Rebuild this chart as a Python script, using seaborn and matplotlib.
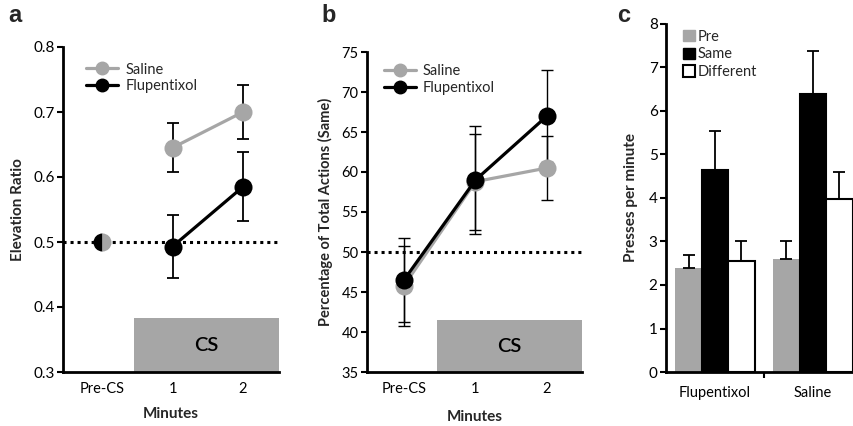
import matplotlib
matplotlib.use("Agg")
import matplotlib.pyplot as plt
import seaborn as sns
import numpy as np
import pandas as pd
from matplotlib.patches import Rectangle
from matplotlib.lines import Line2D
from matplotlib.patches import Patch

# ---------------- data ----------------
time_labels = ["Pre-CS", "1", "2"]

# panel a (elevation ratio), CS minutes only
a_saline = [0.645, 0.700]
a_saline_err = [0.038, 0.042]
a_flup = [0.493, 0.585]
a_flup_err = [0.048, 0.053]
a_pre = 0.5

# panel b (percentage of total actions, Same)
b_saline = [45.8, 58.8, 60.5]
b_saline_err = [5.0, 6.0, 4.0]
b_flup = [46.5, 59.0, 67.0]
b_flup_err = [5.3, 6.7, 5.8]

# panel c (presses per minute)
c_groups = ["Flupentixol", "Saline"]
c_conditions = ["Pre", "Same", "Different"]
c_values = {"Pre": [2.40, 2.60], "Same": [4.65, 6.38], "Different": [2.55, 3.97]}
c_errors = {"Pre": [0.30, 0.42], "Same": [0.90, 1.00], "Different": [0.45, 0.63]}

GRAY = "#a6a6a6"
sns.set_theme(style="white")
plt.rcParams["font.family"] = ["Lato", "DejaVu Sans"]

fig = plt.figure(figsize=(8.54, 4.26), dpi=100)
W, H = 854, 426
def box(l, r, t, b):
    return [l / W, 1 - b / H, (r - l) / W, (b - t) / H]

ax_a = fig.add_axes(box(63, 279, 47, 372))
ax_b = fig.add_axes(box(367, 582, 52, 372))
ax_c = fig.add_axes(box(666, 854, 24, 372))

def style_axis(ax, ysize=10.5):
    for s in ["top", "right"]:
        ax.spines[s].set_visible(False)
    for s in ["left", "bottom"]:
        ax.spines[s].set_color("black")
        ax.spines[s].set_linewidth(2.0)
    ax.tick_params(axis="y", which="both", direction="out", length=4, width=1.5,
                   colors="black", labelsize=ysize, left=True, pad=2)
    ax.tick_params(axis="x", length=0, labelsize=10.5, colors="black", pad=7)

ms = 13
lw = 2.3

# ---------------- panel a ----------------
ax = ax_a
xa = np.arange(len(time_labels))
ax.set_xlim(-0.553, 2.51)
ax.set_ylim(0.3, 0.8)
ax.add_patch(Rectangle((0.45, 0.3), 2.51 - 0.45, 0.383 - 0.3, color=GRAY, zorder=1, lw=0))
ax.text((0.45 + 2.51) / 2, 0.3415, "CS", ha="center", va="center", fontsize=14.5,
        fontweight="semibold", color="black", zorder=2)
ax.axhline(0.5, color="black", lw=2.2, ls=(0, (1, 1.3)), zorder=2)
df_a = pd.DataFrame({"x": list(xa[1:]) * 2, "y": a_saline + a_flup,
                     "g": ["Saline"] * 2 + ["Flupentixol"] * 2})
ax.errorbar(xa[1:], a_saline, yerr=a_saline_err, fmt="none", ecolor="black", elinewidth=1.3, capsize=4, capthick=1.3, zorder=3)
ax.errorbar(xa[1:], a_flup, yerr=a_flup_err, fmt="none", ecolor="black", elinewidth=1.3, capsize=4, capthick=1.3, zorder=3)
sns.lineplot(data=df_a, x="x", y="y", hue="g", palette={"Saline": GRAY, "Flupentixol": "black"},
             marker="o", markersize=ms, markeredgewidth=0, lw=lw, ax=ax, legend=False, zorder=4)
ax.plot([xa[0]], [a_pre], marker="o", markersize=ms, fillstyle="left", markerfacecolor="black",
        markerfacecoloralt=GRAY, markeredgewidth=0, ls="none", zorder=5)
ax.set_xticks(xa)
ax.set_xticklabels(time_labels)
ax.set_yticks(np.arange(0.3, 0.81, 0.1))
ax.set_yticklabels([f"{v:.1f}" for v in np.arange(0.3, 0.81, 0.1)])
ax.set_xlabel("Minutes", fontsize=11, fontweight="bold", labelpad=8)
ax.set_ylabel("Elevation Ratio", fontsize=11, fontweight="bold", labelpad=6)
style_axis(ax, ysize=11)
handles = [Line2D([], [], color=GRAY, marker="o", markersize=9, lw=lw, label="Saline"),
           Line2D([], [], color="black", marker="o", markersize=9, lw=lw, label="Flupentixol")]
ax.legend(handles=handles, loc="upper left", bbox_to_anchor=(0.08, 0.97), frameon=False,
          fontsize=10.5, handlelength=2.2, handletextpad=0.5, labelspacing=0.2, borderaxespad=0)

# ---------------- panel b ----------------
ax = ax_b
xb = np.arange(len(time_labels))
ax.set_xlim(-0.517, 2.49)
ax.set_ylim(35, 75)
ax.add_patch(Rectangle((0.46, 35), 2.49 - 0.46, 41.5 - 35, color=GRAY, zorder=1, lw=0))
ax.text((0.46 + 2.49) / 2, 38.2, "CS", ha="center", va="center", fontsize=14.5,
        fontweight="semibold", color="black", zorder=2)
ax.axhline(50, color="black", lw=2.2, ls=(0, (1, 1.3)), zorder=2)
ax.errorbar(xb, b_saline, yerr=b_saline_err, fmt="none", ecolor="black", elinewidth=1.0, capsize=4, capthick=1.0, zorder=3)
ax.errorbar(xb, b_flup, yerr=b_flup_err, fmt="none", ecolor="black", elinewidth=1.0, capsize=4, capthick=1.0, zorder=3)
df_b = pd.DataFrame({"x": list(xb) * 2, "y": b_saline + b_flup,
                     "g": ["Saline"] * 3 + ["Flupentixol"] * 3})
sns.lineplot(data=df_b, x="x", y="y", hue="g", palette={"Saline": GRAY, "Flupentixol": "black"},
             marker="o", markersize=ms, markeredgewidth=0, lw=lw, ax=ax, legend=False, zorder=4)
ax.set_xticks(xb)
ax.set_xticklabels(time_labels)
ax.set_yticks(np.arange(35, 76, 5))
ax.set_xlabel("Minutes", fontsize=11, fontweight="bold", labelpad=10)
ax.set_ylabel("Percentage of Total Actions (Same)", fontsize=10.5, fontweight="bold", labelpad=6)
style_axis(ax)
ax.legend(handles=handles, loc="upper left", bbox_to_anchor=(0.05, 0.98), frameon=False,
          fontsize=10.5, handlelength=2.2, handletextpad=0.5, labelspacing=0.2, borderaxespad=0)

# ---------------- panel c ----------------
ax = ax_c
rows = []
for cond in c_conditions:
    for i, g in enumerate(c_groups):
        rows.append({"group": g, "cond": cond, "val": c_values[cond][i]})
df_c = pd.DataFrame(rows)
sns.barplot(data=df_c, x="group", y="val", hue="cond", order=c_groups, hue_order=c_conditions,
            palette={"Pre": GRAY, "Same": "black", "Different": "white"}, width=0.81,
            errorbar=None, ax=ax, legend=False, saturation=1)
for cont, cond in zip(ax.containers, c_conditions):
    xs = []
    for p in cont:
        p.set_clip_on(False)
        if cond == "Pre":
            p.set_edgecolor(GRAY)
            p.set_linewidth(0)
        else:
            p.set_edgecolor("black")
            p.set_linewidth(1.5)
        xs.append(p.get_x() + p.get_width() / 2)
    ax.errorbar(xs, c_values[cond], yerr=[[0, 0], c_errors[cond]], fmt="none", ecolor="black",
                elinewidth=1.3, capsize=4, capthick=1.3, zorder=5)
ax.set_xlim(-0.50, 1.42)
ax.set_ylim(0, 8)
ax.set_yticks(range(0, 9))
ax.set_xlabel("")
ax.set_ylabel("Presses per minute", fontsize=11, fontweight="bold", labelpad=8)
style_axis(ax, ysize=11)
ax.set_xticks([0.505], minor=True)
ax.tick_params(axis="x", which="minor", direction="out", length=4, width=1.5, bottom=True, colors="black")
ax.tick_params(axis="x", pad=10)
leg_handles = [Patch(facecolor=GRAY, edgecolor=GRAY, label="Pre"),
               Patch(facecolor="black", edgecolor="black", label="Same"),
               Patch(facecolor="white", edgecolor="black", linewidth=1.5, label="Different")]
ax.legend(handles=leg_handles, loc="upper left", bbox_to_anchor=(0.06, 1.0), frameon=False,
          fontsize=10.5, handlelength=0.8, handleheight=0.8, handletextpad=0.2, labelspacing=0.25,
          borderaxespad=0)

# panel letters
fig.text(8 / W, 1 - 4 / H, "a", fontsize=17, fontweight="bold", va="top", ha="left", family="Liberation Sans")
fig.text(321 / W, 1 - 4 / H, "b", fontsize=17, fontweight="bold", va="top", ha="left", family="Liberation Sans")
fig.text(617 / W, 1 - 4 / H, "c", fontsize=17, fontweight="bold", va="top", ha="left", family="Liberation Sans")

fig.savefig("out.png", dpi=100)
